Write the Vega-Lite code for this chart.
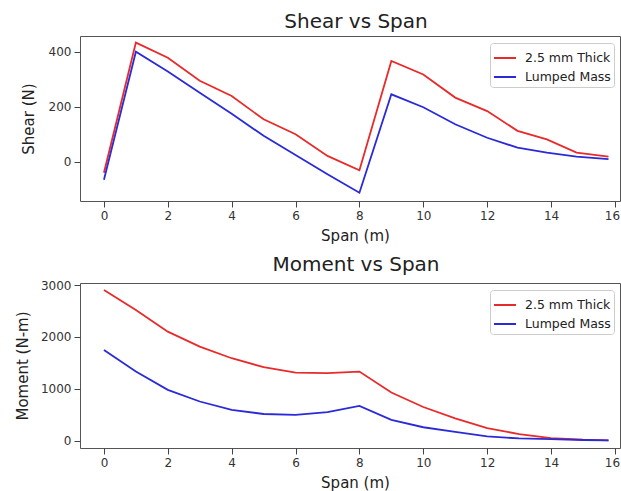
{
  "$schema": "https://vega.github.io/schema/vega-lite/v6.json",
  "padding": {"left": 14, "top": 11, "right": 0, "bottom": 0},
  "bounds": "flush",
  "spacing": 82,
  "background": "white",
  "config": {
    "font": "DejaVu Sans",
    "view": {"stroke": "#555555", "strokeWidth": 1},
    "axis": {"grid": false, "domain": false, "tickColor": "#444444", "tickSize": 6, "labelFont": "DejaVu Sans", "labelFontSize": 12, "labelColor": "#333333", "labelPadding": 3, "titleFont": "DejaVu Sans", "titleFontSize": 15, "titleFontWeight": "normal", "titleColor": "#222222"},
    "title": {"font": "DejaVu Sans", "fontSize": 20, "fontWeight": "normal", "color": "#222222", "anchor": "middle", "baseline": "alphabetic", "offset": 4, "dx": 6},
    "legend": {"orient": "none", "title": null, "symbolType": "stroke", "symbolSize": 484, "symbolStrokeWidth": 2, "labelFont": "DejaVu Sans", "labelFontSize": 12.5, "labelColor": "#222222", "labelOffset": 8, "padding": 3, "rowPadding": -3, "strokeColor": "#cccccc", "fillColor": "white", "cornerRadius": 3}
  },
  "datasets": {
    "shear": [
      {"span": 0, "value": -39, "series": "2.5 mm Thick"},
      {"span": 1, "value": 434, "series": "2.5 mm Thick"},
      {"span": 2, "value": 379, "series": "2.5 mm Thick"},
      {"span": 3, "value": 295, "series": "2.5 mm Thick"},
      {"span": 4, "value": 240, "series": "2.5 mm Thick"},
      {"span": 5, "value": 155, "series": "2.5 mm Thick"},
      {"span": 6, "value": 101, "series": "2.5 mm Thick"},
      {"span": 7, "value": 22, "series": "2.5 mm Thick"},
      {"span": 8, "value": -30, "series": "2.5 mm Thick"},
      {"span": 9, "value": 367, "series": "2.5 mm Thick"},
      {"span": 10, "value": 318, "series": "2.5 mm Thick"},
      {"span": 11, "value": 234, "series": "2.5 mm Thick"},
      {"span": 12, "value": 185, "series": "2.5 mm Thick"},
      {"span": 12.95, "value": 113, "series": "2.5 mm Thick"},
      {"span": 13.87, "value": 82, "series": "2.5 mm Thick"},
      {"span": 14.8, "value": 34, "series": "2.5 mm Thick"},
      {"span": 15.8, "value": 19, "series": "2.5 mm Thick"},
      {"span": 0, "value": -65, "series": "Lumped Mass"},
      {"span": 1, "value": 401, "series": "Lumped Mass"},
      {"span": 2, "value": 329, "series": "Lumped Mass"},
      {"span": 3, "value": 252, "series": "Lumped Mass"},
      {"span": 4, "value": 175, "series": "Lumped Mass"},
      {"span": 5, "value": 95, "series": "Lumped Mass"},
      {"span": 6, "value": 25, "series": "Lumped Mass"},
      {"span": 7, "value": -45, "series": "Lumped Mass"},
      {"span": 8, "value": -112, "series": "Lumped Mass"},
      {"span": 9, "value": 246, "series": "Lumped Mass"},
      {"span": 10, "value": 199, "series": "Lumped Mass"},
      {"span": 11, "value": 137, "series": "Lumped Mass"},
      {"span": 12, "value": 88, "series": "Lumped Mass"},
      {"span": 12.95, "value": 52, "series": "Lumped Mass"},
      {"span": 13.87, "value": 34, "series": "Lumped Mass"},
      {"span": 14.8, "value": 19, "series": "Lumped Mass"},
      {"span": 15.8, "value": 10, "series": "Lumped Mass"}
    ],
    "moment": [
      {"span": 0, "value": 2904, "series": "2.5 mm Thick"},
      {"span": 1, "value": 2519, "series": "2.5 mm Thick"},
      {"span": 2, "value": 2102, "series": "2.5 mm Thick"},
      {"span": 3, "value": 1813, "series": "2.5 mm Thick"},
      {"span": 4, "value": 1590, "series": "2.5 mm Thick"},
      {"span": 5, "value": 1418, "series": "2.5 mm Thick"},
      {"span": 6, "value": 1314, "series": "2.5 mm Thick"},
      {"span": 7, "value": 1302, "series": "2.5 mm Thick"},
      {"span": 8, "value": 1333, "series": "2.5 mm Thick"},
      {"span": 9, "value": 930, "series": "2.5 mm Thick"},
      {"span": 10, "value": 650, "series": "2.5 mm Thick"},
      {"span": 11, "value": 430, "series": "2.5 mm Thick"},
      {"span": 12, "value": 244, "series": "2.5 mm Thick"},
      {"span": 13, "value": 129, "series": "2.5 mm Thick"},
      {"span": 14, "value": 52, "series": "2.5 mm Thick"},
      {"span": 15, "value": 20, "series": "2.5 mm Thick"},
      {"span": 15.8, "value": 6, "series": "2.5 mm Thick"},
      {"span": 0, "value": 1750, "series": "Lumped Mass"},
      {"span": 1, "value": 1333, "series": "Lumped Mass"},
      {"span": 2, "value": 981, "series": "Lumped Mass"},
      {"span": 3, "value": 756, "series": "Lumped Mass"},
      {"span": 4, "value": 596, "series": "Lumped Mass"},
      {"span": 5, "value": 515, "series": "Lumped Mass"},
      {"span": 6, "value": 500, "series": "Lumped Mass"},
      {"span": 7, "value": 552, "series": "Lumped Mass"},
      {"span": 8, "value": 673, "series": "Lumped Mass"},
      {"span": 9, "value": 404, "series": "Lumped Mass"},
      {"span": 10, "value": 260, "series": "Lumped Mass"},
      {"span": 11, "value": 172, "series": "Lumped Mass"},
      {"span": 12, "value": 83, "series": "Lumped Mass"},
      {"span": 13, "value": 44, "series": "Lumped Mass"},
      {"span": 14, "value": 30, "series": "Lumped Mass"},
      {"span": 15, "value": 14, "series": "Lumped Mass"},
      {"span": 15.8, "value": 6, "series": "Lumped Mass"}
    ]
  },
  "vconcat": [
    {
      "width": 540,
      "height": 165,
      "title": "Shear vs Span",
      "data": {"name": "shear"},
      "mark": {"type": "line", "strokeWidth": 1.8, "clip": true},
      "encoding": {
        "x": {"field": "span", "type": "quantitative", "scale": {"domain": [-0.75, 16.16], "nice": false, "zero": false}, "axis": {"values": [0, 2, 4, 6, 8, 10, 12, 14, 16], "title": "Span (m)", "titleX": 275, "titleY": 39.5, "titleBaseline": "alphabetic", "labelOffset": {"condition": {"test": "datum.value == 16", "value": -3}, "value": 0}}},
        "y": {"field": "value", "type": "quantitative", "scale": {"domain": [-142, 458], "nice": false, "zero": false}, "axis": {"values": [0, 200, 400], "format": "d", "title": "Shear (N)", "titleX": -52, "titleBaseline": "middle"}},
        "color": {"field": "series", "type": "nominal", "scale": {"domain": ["2.5 mm Thick", "Lumped Mass"], "range": ["#e82a2a", "#2a2ad8"]}, "legend": {"legendX": 410, "legendY": 7}}
      }
    },
    {
      "width": 540,
      "height": 165,
      "title": "Moment vs Span",
      "data": {"name": "moment"},
      "mark": {"type": "line", "strokeWidth": 1.8, "clip": true},
      "encoding": {
        "x": {"field": "span", "type": "quantitative", "scale": {"domain": [-0.75, 16.16], "nice": false, "zero": false}, "axis": {"values": [0, 2, 4, 6, 8, 10, 12, 14, 16], "title": "Span (m)", "titleX": 275, "titleY": 39.5, "titleBaseline": "alphabetic", "labelOffset": {"condition": {"test": "datum.value == 16", "value": -3}, "value": 0}}},
        "y": {"field": "value", "type": "quantitative", "scale": {"domain": [-140, 3040], "nice": false, "zero": false}, "axis": {"values": [0, 1000, 2000, 3000], "format": "d", "title": "Moment (N-m)", "titleX": -58, "titleBaseline": "middle"}},
        "color": {"field": "series", "type": "nominal", "scale": {"domain": ["2.5 mm Thick", "Lumped Mass"], "range": ["#e82a2a", "#2a2ad8"]}, "legend": {"legendX": 410, "legendY": 7}}
      }
    }
  ],
  "resolve": {"scale": {"color": "independent"}, "legend": {"color": "independent"}}
}
